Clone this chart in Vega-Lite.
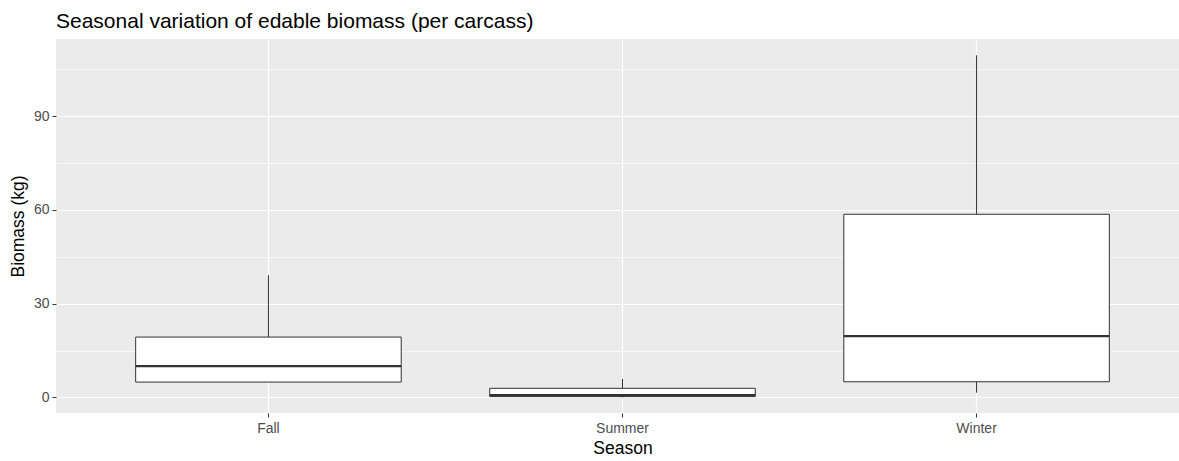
{
  "$schema": "https://vega.github.io/schema/vega-lite/v6.json",
  "width": 1123,
  "height": 374,
  "autosize": {"type": "none"},
  "padding": {"left": 56, "top": 39, "right": 0, "bottom": 48},
  "background": "white",
  "title": {
    "text": "Seasonal variation of edable biomass (per carcass)",
    "anchor": "start",
    "frame": "group",
    "font": "Liberation Sans",
    "fontSize": 21,
    "fontWeight": "normal",
    "color": "#000000",
    "baseline": "alphabetic",
    "offset": -10
  },
  "config": {
    "view": {"fill": "#EBEBEB", "stroke": null},
    "font": "Liberation Sans"
  },
  "data": {
    "values": [
      {"season": "Fall", "lower": 4.9, "q1": 4.9, "median": 10.0, "q3": 19.3, "upper": 39.1},
      {"season": "Summer", "lower": 0.0, "q1": 0.25, "median": 0.7, "q3": 2.9, "upper": 5.9},
      {"season": "Winter", "lower": 1.5, "q1": 5.0, "median": 19.6, "q3": 58.6, "upper": 109.5}
    ]
  },
  "encoding": {
    "x": {
      "field": "season",
      "type": "nominal",
      "sort": ["Fall", "Summer", "Winter"],
      "scale": {"range": [0, 1133], "paddingInner": 0.25, "paddingOuter": 0.225},
      "axis": {
        "title": "Season",
        "bandPosition": 0.5,
        "grid": true,
        "gridColor": "#FFFFFF",
        "gridWidth": 1.2,
        "domain": false,
        "ticks": true,
        "tickColor": "#333333",
        "tickSize": 4,
        "tickWidth": 1,
        "labelAngle": 0,
        "labelFontSize": 14,
        "labelColor": "#4D4D4D",
        "labelPadding": 4,
        "titleFontSize": 17.5,
        "titleFontWeight": "normal",
        "titleColor": "#000000",
        "titlePadding": 4
      }
    }
  },
  "resolve": {"axis": {"y": "independent"}},
  "layer": [
    {
      "mark": {"type": "rule", "color": "#333333", "strokeWidth": 1},
      "encoding": {
        "y": {
          "field": "q3",
          "type": "quantitative",
          "scale": {"domain": [-5.0, 114.7], "nice": false, "zero": false},
          "axis": {
            "orient": "left",
            "values": [15, 45, 75, 105],
            "grid": true,
            "gridColor": "#FFFFFF",
            "gridWidth": 0.6,
            "labels": false,
            "ticks": false,
            "domain": false,
            "title": null
          }
        },
        "y2": {"field": "upper"}
      }
    },
    {
      "mark": {"type": "rule", "color": "#333333", "strokeWidth": 1},
      "encoding": {
        "y": {"field": "lower", "type": "quantitative", "axis": null},
        "y2": {"field": "q1"}
      }
    },
    {
      "mark": {"type": "bar", "fill": "#FFFFFF", "stroke": "#333333", "strokeWidth": 1},
      "encoding": {
        "y": {
          "field": "q1",
          "type": "quantitative",
          "scale": {"domain": [-5.0, 114.7], "nice": false, "zero": false},
          "axis": {
            "orient": "left",
            "title": "Biomass (kg)",
            "values": [0, 30, 60, 90],
            "grid": true,
            "gridColor": "#FFFFFF",
            "gridWidth": 1.2,
            "domain": false,
            "tickColor": "#333333",
            "tickSize": 4,
            "tickWidth": 1,
            "labelFontSize": 14,
            "labelColor": "#4D4D4D",
            "labelPadding": 3,
            "titleFontSize": 17.5,
            "titleFontWeight": "normal",
            "titleColor": "#000000",
            "titlePadding": 6
          }
        },
        "y2": {"field": "q3"}
      }
    },
    {
      "mark": {"type": "tick", "color": "#333333", "size": 265.5, "thickness": 2.2, "opacity": 1},
      "encoding": {
        "y": {"field": "median", "type": "quantitative", "axis": null}
      }
    }
  ]
}
